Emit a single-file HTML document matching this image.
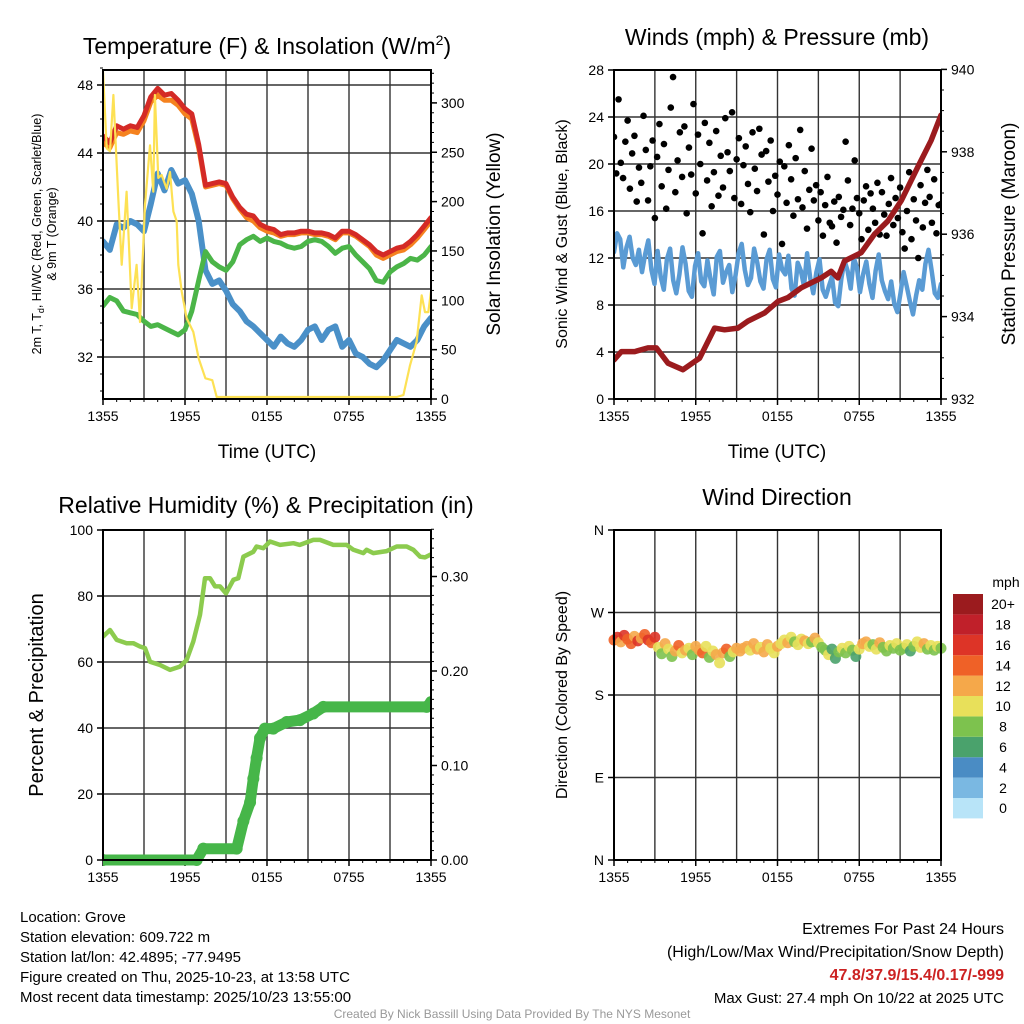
<!DOCTYPE html>
<html><head><meta charset="utf-8"><style>
html,body{margin:0;padding:0;background:#fff;}
svg{display:block;font-family:"Liberation Sans",Arial,sans-serif;}
</style></head><body>
<svg id="c" width="1024" height="1024" viewBox="0 0 1024 1024" xmlns="http://www.w3.org/2000/svg">
<rect width="1024" height="1024" fill="#fff"/>
<g id="g1"></g>
<g id="g2"></g>
<g id="g3"></g>
<g id="g4"></g>
<text x="267" y="54" font-size="23" text-anchor="middle">Temperature (F) &amp; Insolation (W/m<tspan font-size="14" dy="-9">2</tspan><tspan dy="9">)</tspan></text>
<text x="777" y="45" font-size="23" text-anchor="middle">Winds (mph) &amp; Pressure (mb)</text>
<text x="266" y="513" font-size="23" text-anchor="middle">Relative Humidity (%) &amp; Precipitation (in)</text>
<text x="777" y="505" font-size="23" text-anchor="middle">Wind Direction</text>
<text x="267" y="458" font-size="19" text-anchor="middle">Time (UTC)</text>
<text x="777" y="458" font-size="19" text-anchor="middle">Time (UTC)</text>
<text transform="translate(41,234) rotate(-90)" font-size="12.5" text-anchor="middle">2m T, T<tspan font-size="9" dy="3">d</tspan><tspan dy="-3">, HI/WC (Red, Green, Scarlet/Blue)</tspan></text>
<text transform="translate(56,234) rotate(-90)" font-size="12.5" text-anchor="middle">&amp; 9m T (Orange)</text>
<text transform="translate(500,234) rotate(-90)" font-size="19" text-anchor="middle">Solar Insolation (Yellow)</text>
<text transform="translate(567,234) rotate(-90)" font-size="16" text-anchor="middle">Sonic Wind &amp; Gust (Blue, Black)</text>
<text transform="translate(1015,234) rotate(-90)" font-size="19" text-anchor="middle">Station Pressure (Maroon)</text>
<text transform="translate(43,695) rotate(-90)" font-size="20" text-anchor="middle">Percent &amp; Precipitation</text>
<text transform="translate(567,695) rotate(-90)" font-size="16" text-anchor="middle">Direction (Colored By Speed)</text>
<g font-size="15">
<text x="20" y="922">Location: Grove</text>
<text x="20" y="942">Station elevation: 609.722 m</text>
<text x="20" y="962">Station lat/lon: 42.4895; -77.9495</text>
<text x="20" y="982">Figure created on Thu, 2025-10-23, at 13:58 UTC</text>
<text x="20" y="1002">Most recent data timestamp: 2025/10/23 13:55:00</text>
</g>
<g font-size="16" text-anchor="end">
<text x="1004" y="934">Extremes For Past 24 Hours</text>
<text x="1004" y="957">(High/Low/Max Wind/Precipitation/Snow Depth)</text>
<text x="1004" y="980" fill="#cc2222" font-weight="bold">47.8/37.9/15.4/0.17/-999</text>
<text x="1004" y="1003" font-size="15">Max Gust: 27.4 mph On 10/22 at 2025 UTC</text>
</g>
<text x="512" y="1018" font-size="12" fill="#999" text-anchor="middle">Created By Nick Bassill Using Data Provided By The NYS Mesonet</text>
</svg>
<script>
// ---- data ----
const tempRed=[45.0,44.6,45.6,45.4,45.6,45.5,46.2,47.3,47.8,47.4,47.5,47.1,46.6,46.3,44.5,42.1,42.2,42.3,42.2,41.4,40.8,40.4,40.3,39.8,39.6,39.5,39.2,39.3,39.3,39.4,39.4,39.3,39.3,39.2,39.0,39.4,39.4,39.2,38.9,38.6,38.2,38.0,38.2,38.4,38.5,38.8,39.2,39.7,40.2];
const temp9m=[44.6,44.3,45.2,45.1,45.3,45.2,45.9,47.0,47.4,47.1,47.1,46.8,46.3,46.0,44.3,42.0,42.1,42.2,42.1,41.3,40.7,40.2,40.0,39.6,39.4,39.3,39.1,39.2,39.2,39.3,39.3,39.2,39.2,39.1,38.9,39.3,39.3,39.1,38.8,38.5,38.0,37.8,38.0,38.2,38.3,38.6,39.0,39.5,40.0];
const tempGreen=[35.0,35.5,35.3,34.7,34.6,34.5,34.1,33.8,33.9,33.7,33.5,33.3,33.6,34.7,36.5,38.2,37.6,37.3,37.1,37.6,38.6,38.9,39.1,38.8,39.0,38.8,38.7,38.5,38.4,38.5,38.8,38.9,38.8,38.5,38.1,38.4,38.5,38.0,37.6,37.2,36.5,36.4,37.0,37.3,37.5,37.8,37.7,38.0,38.5];
const tempBlue=[38.8,38.3,39.8,39.6,40.0,39.8,39.4,41.0,42.8,41.8,43.0,42.2,42.4,41.6,40.0,37.1,36.3,36.5,35.9,35.1,34.7,34.1,33.8,33.4,33.0,32.6,33.2,32.8,32.6,33.0,33.6,33.8,33.0,33.6,33.8,32.6,33.0,32.2,32.0,31.6,31.4,31.8,32.4,33.0,32.8,32.6,33.0,33.8,34.3];
const solarHours=[0,0.27,0.51,0.76,1.12,1.37,1.73,2.1,2.46,2.71,3.07,3.44,3.68,3.8,4.05,4.29,4.66,4.9,5.15,5.39,5.51,5.76,6.12,6.61,7.0,7.49,8.0,8.32,21.49,21.98,22.46,22.95,23.32,23.56,23.8,24.0];
const solarVals=[332,254,251,308,203,136,210,92,136,78,197,257,210,308,224,227,213,230,190,180,136,109,82,68,41,21,19,2,2,4,34,58,105,88,88,109];
const windSpd=[12.5,14.1,13.6,11.2,12.9,13.8,12.0,11.4,12.7,10.8,12.3,13.5,11.0,9.8,12.6,10.4,9.3,11.9,12.8,10.1,9.0,10.6,12.9,11.5,9.2,8.7,11.3,12.4,10.0,9.6,11.8,10.2,8.9,12.1,12.6,9.9,10.8,11.4,9.1,10.5,12.4,13.2,11.0,9.7,10.3,12.8,11.6,10.0,9.4,11.9,12.7,10.2,9.5,12.3,11.0,10.6,12.2,9.4,8.8,11.6,10.9,9.6,12.4,10.3,9.0,10.8,11.9,9.3,8.7,9.6,10.4,8.2,7.9,10.2,11.8,10.9,9.4,12.0,11.2,9.1,10.6,11.7,9.8,8.6,10.9,12.3,10.1,9.2,8.5,10.0,8.1,7.4,9.0,10.8,9.6,8.3,7.2,8.8,10.1,9.3,11.5,12.7,10.9,9.0,8.6,9.8];
const gustVals=[22.3,19.2,25.5,20.1,18.8,21.9,23.7,17.9,20.9,22.4,16.8,19.7,18.4,24.1,21.2,16.9,19.8,22.0,15.4,20.6,23.4,18.1,21.7,16.2,19.5,24.8,27.4,17.6,20.3,22.7,18.9,23.2,15.8,21.4,19.1,25.1,17.5,22.5,20.0,14.1,23.5,18.6,21.8,16.4,19.3,22.8,17.3,20.7,18.0,23.9,21.0,19.4,24.4,17.1,20.4,22.2,16.6,19.9,21.5,18.3,15.9,22.7,19.6,17.7,23.0,20.8,14.0,21.1,18.5,22.0,16.0,19.0,17.4,20.2,13.2,19.8,16.7,21.6,18.7,15.6,20.5,17.0,22.9,16.3,19.4,14.5,17.8,21.3,16.9,18.2,15.2,17.6,13.9,16.5,18.9,15.0,14.7,16.8,13.3,17.2,15.5,16.1,21.9,18.6,14.8,16.2,20.3,17.1,15.8,13.6,16.9,18.1,14.4,17.5,16.2,15.0,18.4,14.0,17.6,15.7,13.9,16.6,18.8,14.8,17.1,15.4,18.0,14.2,12.8,16.0,19.3,13.6,17.0,15.2,12.0,18.2,14.6,16.7,19.5,17.2,15.0,18.7,14.1,16.5,16.6];
const presHours=[0,0.54,1.52,2.49,3.11,3.96,5.06,5.92,6.28,7.38,8.12,9.09,9.83,11.05,12.03,12.76,13.74,15.21,15.94,16.43,16.92,18.14,19.12,20.1,21.08,22.3,23.28,24.0];
const presVals=[932.95,933.15,933.15,933.24,933.24,932.87,932.71,932.91,932.99,933.72,933.68,933.72,933.89,934.09,934.37,934.46,934.7,934.94,935.1,934.94,935.35,935.55,936.0,936.32,936.81,937.63,938.28,938.89];
const rhHours=[0,0.51,1.0,1.73,2.22,2.71,3.07,3.44,4.17,4.9,5.63,6.12,6.61,7.1,7.46,7.83,8.2,8.56,9.0,9.54,9.9,10.27,11.0,11.24,11.73,12.22,12.95,13.93,14.41,15.39,15.88,16.85,17.83,18.32,19.05,19.29,19.78,20.76,21.49,22.22,22.71,23.2,23.56,24.0];
const rhVals=[67.7,69.7,66.7,65.7,65.7,64.7,64.2,60.1,59.1,57.6,58.6,60.6,66.2,74.3,85.4,85.4,82.9,82.9,80.8,84.9,85.4,91.9,93.4,95.0,94.5,96.5,95.5,96.0,95.5,97.0,97.0,95.5,95.5,94.0,93.0,94.0,93.0,93.6,95.0,95.0,94.0,91.9,91.7,92.6];
const pcpHours=[0,6.85,7.34,9.78,10.27,10.76,11.0,11.24,11.49,11.85,12.46,13.44,14.41,15.39,16.12,23.68,24.0];
const pcpVals=[0.0,0.0,0.012,0.012,0.041,0.061,0.086,0.108,0.129,0.139,0.139,0.146,0.148,0.155,0.162,0.162,0.167];
const dirVals=[240,243,238,245,241,236,244,239,242,246,240,237,243,232,225,236,230,222,228,234,226,229,231,224,233,229,226,233,221,228,224,215,226,230,222,227,231,228,231,233,229,236,230,232,227,235,231,226,233,236,240,237,243,238,235,241,239,236,238,242,237,232,229,224,230,220,227,231,226,233,229,222,230,236,238,233,235,230,237,232,228,234,231,236,229,231,235,228,233,238,232,236,230,234,229,233,231];
const dirSpd=[15,16,13,17,14,15,12,16,13,15,17,14,16,11,9,12,10,8,13,15,10,12,11,9,13,12,14,10,9,11,13,10,12,14,8,11,12,12,13,12,11,13,12,10,12,13,11,10,12,10,11,13,10,9,11,10,12,10,9,13,10,8,9,10,7,6,8,11,9,10,8,7,11,12,13,10,9,11,12,8,9,10,8,11,9,8,10,7,9,11,10,12,8,10,9,11,8];
const timeTicks=["1355","1955","0155","0755","1355"];
const tempTicks=[32,36,40,44,48];
const solarTicks=[0,50,100,150,200,250,300];
const windTicks=[0,4,8,12,16,20,24,28];
const presTicks=[932,934,936,938,940];
const rhTicks=[0,20,40,60,80,100];
const pcpTicks=["0.00","0.10","0.20","0.30"];
const dirTicks=["N","E","S","W","N"];
const cbLabels=["0","2","4","6","8","10","12","14","16","18","20+"];
const cbColors=["#b8e4f8","#7ab8e2","#4a8cc4","#4aa26c","#7dc24e","#e8e05a","#f5a84a","#ef6127","#dd3427","#c0202a","#9b1b1e"];

const NS="http://www.w3.org/2000/svg";
function mk(tag,attrs,parent){const e=document.createElementNS(NS,tag);for(const k in attrs)e.setAttribute(k,attrs[k]);parent.appendChild(e);return e;}
const idx=(n)=>i=>i*24/(n-1);

function frame(g,L,R,T,B){
  for(let k=0;k<=8;k++){const x=L+(R-L)*k/8;const l=mk('line',{x1:x,x2:x,y1:T,y2:B,stroke:'#333','stroke-width':1.4},g);
  
  }
  timeTicks.forEach((s,k)=>{const x=L+(R-L)*k/4;mk('line',{x1:x,x2:x,y1:B,y2:B+6,stroke:'#000','stroke-width':1.5},g);
  const t=mk('text',{x:x,y:B+22,'font-size':14,'text-anchor':'middle'},g);t.textContent=s;
  
  });
  for(let k=0;k<=24;k++){const x=L+(R-L)*k/24;mk('line',{x1:x,x2:x,y1:B,y2:B+3,stroke:'#000','stroke-width':1},g);}
}
function hgrid(g,L,R,ys){ys.forEach(y=>{const l=mk('line',{x1:L,x2:R,y1:y,y2:y,stroke:'#333','stroke-width':1.4},g);

});}
function border(g,L,R,T,B){const r=mk('rect',{x:L,y:T,width:R-L,height:B-T,fill:'none',stroke:'#000','stroke-width':2},g);

}
function yTicks(g,x,vals,ys,side,labels){vals.forEach((v,k)=>{const y=ys[k];const d=side<0?-6:6;mk('line',{x1:x,x2:x+d,y1:y,y2:y,stroke:'#000','stroke-width':1.5},g);
const t=mk('text',{x:x+(side<0?-10:10),y:y+5,'font-size':14,'text-anchor':side<0?'end':'start'},g);t.textContent=labels?labels[k]:v;

});}
function minor(g,x,y0,y1,n,side){for(let k=0;k<=n;k++){const y=y0+(y1-y0)*k/n;mk('line',{x1:x,x2:x+(side<0?-3:3),y1:y,y2:y,stroke:'#000','stroke-width':1},g);}}
function path(g,xs,ys,color,w,name){let d='';xs.forEach((x,i)=>{d+=(i?'L':'M')+x.toFixed(1)+' '+ys[i].toFixed(1);});
const p=mk('path',{d:d,fill:'none',stroke:color,'stroke-width':w,'stroke-linejoin':'round','stroke-linecap':'round'},g);

return p;}

// ---- panel 1 ----
(function(){const g=document.getElementById('g1');const L=103,R=431,T=70,B=399;
const X=h=>L+h*(R-L)/24, Y=v=>357-(v-32)*17, YS=w=>399-w*0.987;
const cp=mk('clipPath',{id:'cp1'},g);mk('rect',{x:L,y:T,width:R-L,height:B-T},cp);
hgrid(g,L,R,tempTicks.map(Y));frame(g,L,R,T,B);
const pg=mk('g',{'clip-path':'url(#cp1)'},g);
const f=idx(49);
path(pg,tempBlue.map((v,i)=>X(f(i))),tempBlue.map(Y),'#4a90c8',6,'dewpoint-line');
path(pg,tempGreen.map((v,i)=>X(f(i))),tempGreen.map(Y),'#4bb548',5,'heat-index-line');
path(pg,temp9m.map((v,i)=>X(f(i))),temp9m.map(Y),'#f5821f',5,'temp-9m-line');
path(pg,tempRed.map((v,i)=>X(f(i))),tempRed.map(Y),'#d42a26',5,'temp-2m-line');
path(pg,solarHours.map(X),solarVals.map(YS),'#fde154',2.2,'solar-line');
border(g,L,R,T,B);
yTicks(g,L,tempTicks,tempTicks.map(Y),-1);minor(g,L,Y(49),Y(30),19,-1);
yTicks(g,R,solarTicks,solarTicks.map(YS),1);minor(g,R,YS(330),YS(0),33,1);
})();

// ---- panel 2 ----
(function(){const g=document.getElementById('g2');const L=614,R=941,T=70,B=399;
const X=h=>L+h*(R-L)/24, Y=v=>399-v*11.75, YP=p=>399-(p-932)*41.2;
const cp=mk('clipPath',{id:'cp2'},g);mk('rect',{x:L,y:T,width:R-L,height:B-T},cp);
hgrid(g,L,R,windTicks.map(Y));frame(g,L,R,T,B);
const pg=mk('g',{'clip-path':'url(#cp2)'},g);
const f=idx(windSpd.length);
path(pg,windSpd.map((v,i)=>X(f(i))),windSpd.map(Y),'#5a9bd4',4.5,'wind-speed-line');
const fg=idx(gustVals.length);
gustVals.forEach((v,i)=>{const c=mk('circle',{cx:X(fg(i)),cy:Y(v),r:3.3,fill:'#000'},pg);

});
path(pg,presHours.map(X),presVals.map(YP),'#9b1b1e',5.5,'pressure-line');
border(g,L,R,T,B);
yTicks(g,L,windTicks,windTicks.map(Y),-1);
yTicks(g,R,presTicks,presTicks.map(YP),1);minor(g,R,YP(940),YP(932),16,1);
})();

// ---- panel 3 ----
(function(){const g=document.getElementById('g3');const L=103,R=431,T=530,B=860;
const X=h=>L+h*(R-L)/24, Y=v=>860-v*3.3, YP=v=>860-v*945;
hgrid(g,L,R,rhTicks.map(Y));frame(g,L,R,T,B);
const cp=mk('clipPath',{id:'cp3'},g);mk('rect',{x:L,y:T,width:R-L,height:B-T+6},cp);
const pg=mk('g',{'clip-path':'url(#cp3)'},g);
path(pg,rhHours.map(X),rhVals.map(Y),'#8ccb4e',4.5,'humidity-line');
path(pg,pcpHours.map(X),pcpVals.map(YP),'#46b649',11,'precip-line');
pcpHours.forEach((h,i)=>{const c=mk('circle',{cx:X(h),cy:YP(pcpVals[i]),r:6,fill:'#46b649'},pg);

});
border(g,L,R,T,B);
yTicks(g,L,rhTicks,rhTicks.map(Y),-1);
const pv=pcpTicks.map(Number);
yTicks(g,R,pcpTicks,pv.map(YP),1,pcpTicks);minor(g,R,YP(0.35),YP(0),35,1);
})();

// ---- panel 4 ----
(function(){const g=document.getElementById('g4');const L=614,R=941,T=530,B=860;
const X=h=>L+h*(R-L)/24, Y=d=>860-d*330/360;
const dy=[0,90,180,270,360].map(Y);
hgrid(g,L,R,dy);frame(g,L,R,T,B);
const f=idx(dirVals.length);
dirVals.forEach((d,i)=>{const s=dirSpd[i];const ci=Math.min(10,Math.floor(s/2));
const c=mk('circle',{cx:X(f(i)),cy:Y(d),r:5.5,fill:cbColors[ci],'fill-opacity':0.9},g);

});
border(g,L,R,T,B);
yTicks(g,L,dirTicks,dy,-1,dirTicks);
const cb=mk('g',{},g);


const top=594,h=20.4;
cbColors.forEach((c,k)=>{const y=top+(10-k)*h;mk('rect',{x:953,y:y,width:30,height:h,fill:c},cb);
const t=mk('text',{x:1003,y:y+h/2+5,'font-size':14,'text-anchor':'middle'},cb);t.textContent=cbLabels[k];

});
const u=mk('text',{x:1006,y:587,'font-size':14,'text-anchor':'middle'},cb);u.textContent='mph';


})();
</script>
</body></html>
